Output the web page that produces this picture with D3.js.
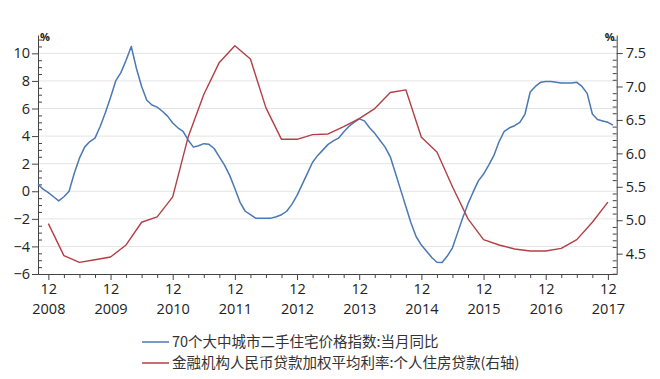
<!DOCTYPE html>
<html><head><meta charset="utf-8">
<script src="https://cdn.jsdelivr.net/npm/d3@7"></script>
<style>body{margin:0;background:#fff}svg{display:block}</style>
</head><body><svg id="c" width="660" height="379"></svg>
<script>
// ---- data ----
const blueStart = "2008-10";
const blueValues = [0.5,0.15,-0.1,-0.4,-0.7,-0.4,0.0,1.3,2.4,3.2,3.6,3.85,4.7,5.7,6.8,8.0,8.6,9.5,10.5,8.9,
 7.6,6.6,6.25,6.1,5.8,5.45,4.95,4.6,4.35,3.7,3.2,3.3,3.45,3.4,3.1,2.5,1.9,1.15,0.2,-0.8,
 -1.45,-1.7,-1.95,-1.95,-1.95,-1.95,-1.85,-1.7,-1.45,-0.95,-0.3,0.5,1.3,2.1,2.6,3.0,3.4,3.65,3.85,4.3,
 4.7,5.0,5.25,5.1,4.6,4.2,3.7,3.2,2.5,1.3,0.1,-1.1,-2.3,-3.3,-3.9,-4.35,-4.8,-5.15,-5.17,-4.7,
 -4.1,-3.0,-1.9,-0.9,-0.05,0.75,1.25,1.9,2.6,3.6,4.35,4.6,4.75,5.0,5.6,7.2,7.6,7.9,7.95,7.95,
 7.9,7.85,7.85,7.85,7.9,7.6,7.1,5.6,5.2,5.1,5.0,4.8];
const redMonths = ["2008-12","2009-03","2009-06","2009-09","2009-12","2010-03","2010-06","2010-09","2010-12",
 "2011-03","2011-06","2011-09","2011-12","2012-03","2012-06","2012-09","2012-12","2013-03","2013-06","2013-09",
 "2013-12","2014-03","2014-06","2014-09","2014-12","2015-03","2015-06","2015-09","2015-12","2016-03","2016-06",
 "2016-09","2016-12","2017-03","2017-06","2017-09","2017-12"];
const redValues = [4.95,4.47,4.37,4.41,4.45,4.63,4.97,5.05,5.35,6.25,6.88,7.36,7.61,7.41,6.68,6.21,6.21,6.28,6.29,6.40,
 6.52,6.67,6.91,6.95,6.24,6.02,5.5,5.02,4.71,4.63,4.57,4.54,4.54,4.58,4.71,4.97,5.27];
const yearLabels = ["2008","2009","2010","2011","2012","2013","2014","2015","2016","2017"];
const leftTicks = [-6,-4,-2,0,2,4,6,8,10];
const rightTicks = [4.5,5.0,5.5,6.0,6.5,7.0,7.5];
const seriesNames = ["70个大中城市二手住宅价格指数:当月同比","金融机构人民币贷款加权平均利率:个人住房贷款(右轴)"];

// ---- helpers ----
const mIdx = s => { const [y,m] = s.split("-").map(Number); return (y-2008)*12 + (m-10); };
const blueData = blueValues.map((v,i)=>({i: mIdx(blueStart)+i, v}));
const redData = redValues.map((v,k)=>({i: mIdx(redMonths[k]), v}));

const colBlue = "#4a78b4", colRed = "#b23f45", axisCol = "#444", txtCol = "#222";
const xL = 38, xR = 616.7, yT = 35, yB = 274;

const x = d3.scaleLinear().domain([0, 111.7]).range([xL, xR]);
const yL = d3.scaleLinear().domain([-6, 11.33]).range([yB, yT]);
const yR = d3.scaleLinear().domain([4.196, 7.77]).range([yB, yT]);

const svg = d3.select("#c");
const font = "'Open Sans', 'Noto Sans', sans-serif";

// grid
svg.append("g").selectAll("line").data(leftTicks.filter(t=>t>-6)).join("line")
  .attr("x1", xL).attr("x2", xR).attr("y1", d=>yL(d)).attr("y2", d=>yL(d))
  .attr("stroke", "#e4e4e4").attr("stroke-width", 1);

function styleAxis(g, fs){
  g.selectAll("path,line").attr("stroke", axisCol);
  g.selectAll("text").attr("fill", txtCol).style("font-family", font).style("font-size", fs+"px");
}

// left axis
const gl = svg.append("g").attr("transform", `translate(${xL},0)`)
  .call(d3.axisLeft(yL).tickValues(leftTicks).tickSize(6).tickSizeOuter(0).tickPadding(2).tickFormat(d3.format("d")));
styleAxis(gl, 14.5);
const leftMinor = d3.range(-6, 11.01, 0.5).filter(v=>!leftTicks.includes(v));
const glm = svg.append("g").attr("transform", `translate(${xL},0)`)
  .call(d3.axisRight(yL).tickValues(leftMinor).tickSize(4).tickSizeOuter(0).tickFormat(""));
styleAxis(glm, 12);
glm.select("path").remove();

// right axis
const gr = svg.append("g").attr("transform", `translate(${xR},0)`)
  .call(d3.axisRight(yR).tickValues(rightTicks).tickSize(6).tickSizeOuter(0).tickPadding(3).tickFormat(d3.format(".1f")));
styleAxis(gr, 14.5);
const rightMinor = d3.range(42, 78).map(v=>v/10).filter(v=>!rightTicks.some(t=>Math.abs(t-v)<1e-6));
const grm = svg.append("g").attr("transform", `translate(${xR},0)`)
  .call(d3.axisLeft(yR).tickValues(rightMinor).tickSize(4).tickSizeOuter(0).tickFormat(""));
styleAxis(grm, 12);
grm.select("path").remove();

// bottom axis
const decIdx = yearLabels.map(y=>mIdx(y+"-12"));
const qIdx = d3.range(2, 112, 3).filter(v=>!decIdx.includes(v));
const gbm = svg.append("g").attr("transform", `translate(0,${yB})`)
  .call(d3.axisBottom(x).tickValues(qIdx).tickSize(4).tickSizeOuter(0).tickFormat(""));
styleAxis(gbm, 12);
const gb = svg.append("g").attr("transform", `translate(0,${yB})`)
  .call(d3.axisBottom(x).tickValues(decIdx).tickSize(6).tickSizeOuter(0).tickPadding(4).tickFormat(()=>"12"));
styleAxis(gb, 14.5);
const gby = svg.append("g").attr("transform", `translate(0,${yB+25})`)
  .call(d3.axisBottom(x).tickValues(decIdx).tickSize(0).tickPadding(5).tickFormat((d,k)=>yearLabels[k]));
styleAxis(gby, 14.5);
gby.select("path").remove();

// % unit labels
svg.append("text").attr("x", xL+2).attr("y", yT+6).text("%")
  .attr("fill", txtCol).style("font-family", font).style("font-size","11px").style("font-weight","bold");
svg.append("text").attr("x", xR-2).attr("y", yT+6).attr("text-anchor","end").text("%")
  .attr("fill", txtCol).style("font-family", font).style("font-size","11px").style("font-weight","bold");

// lines
svg.append("path").datum(blueData)
  .attr("d", d3.line().x(d=>x(d.i)).y(d=>yL(d.v)))
  .attr("fill","none").attr("stroke", colBlue).attr("stroke-width", 1.5).attr("stroke-linejoin","round");
svg.append("path").datum(redData)
  .attr("d", d3.line().x(d=>x(d.i)).y(d=>yR(d.v)))
  .attr("fill","none").attr("stroke", colRed).attr("stroke-width", 1.4).attr("stroke-linejoin","round");

// legend
const lg = svg.append("g");
[colBlue, colRed].forEach((c,k)=>{
  const yy = 342 + k*21;
  lg.append("line").attr("x1", 142).attr("x2", 169).attr("y1", yy).attr("y2", yy).attr("stroke", c).attr("stroke-width", 1.5);
  lg.append("text").attr("x", 172).attr("y", yy+5).text(seriesNames[k])
    .attr("fill", "#333").style("font-family", "'Noto Sans CJK SC', sans-serif").style("font-size", "14.5px");
});
</script></body></html>
